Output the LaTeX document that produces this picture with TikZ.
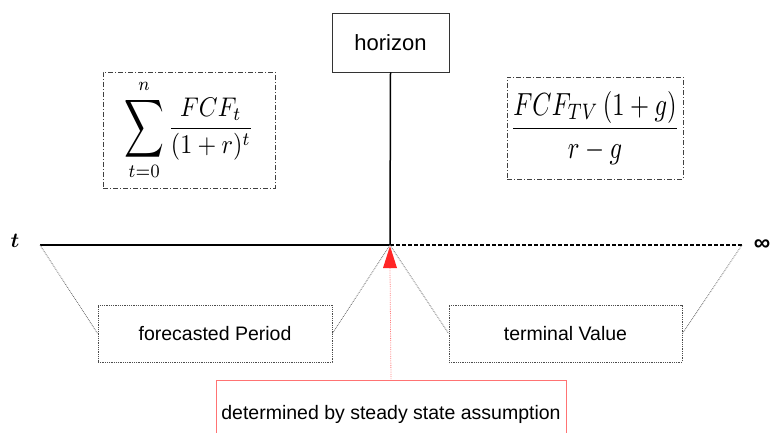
\documentclass[tikz,border=0pt]{standalone}
\usepackage{fontspec}
\setmainfont{Liberation Sans}
\usepackage{amsmath}
\usepackage{graphicx}
\newcommand{\tallsum}{\mathop{\vcenter{\hbox{\scalebox{1.15}[1.5]{$\displaystyle\sum$}}}}\limits}
\begin{document}
\begin{tikzpicture}[x=1pt,y=-1pt,
  dotbox/.style={draw=black!70, densely dotted, line width=0.8pt},
  dashdotbox/.style={draw=black!75, dash pattern=on 5pt off 2pt on 1pt off 2pt, line width=0.8pt},
  connector/.style={draw=black!60, densely dotted, line width=0.8pt},
  redc/.style={draw=red!55, line width=0.8pt},
  txt/.style={font=\fontsize{19.5}{23}\selectfont}
]
\useasboundingbox (0,0) rectangle (771,433);
% horizon box
\node[draw=black!80, line width=0.8pt, minimum width=117pt, minimum height=59pt, inner sep=0pt, font=\fontsize{22}{26}\selectfont] (hor) at (390.5,42.5) {horizon};
% axis
\coordinate (tl) at (40,245);
\coordinate (mid) at (390,245);
\coordinate (inf) at (742,245);
\draw[line width=1.5pt] (hor.south) -- (mid);
\draw[line width=2pt] (tl) -- (mid);
\draw[line width=1.8pt, dash pattern=on 4pt off 2pt] (mid) -- (inf);
\node[inner sep=0pt] (tlab) at (15,241) {\scalebox{2.1}{$\boldsymbol{t}$}};
\node[inner sep=0pt, font=\fontsize{23}{26}\selectfont\bfseries] (ilab) at (762,245) {∞};
% formula boxes
\node[dashdotbox, minimum width=172pt, minimum height=116pt, inner sep=0pt] (fl) at (189,130) {\scalebox{2.4}[2.7]{$\displaystyle\tallsum_{t=0}^{n}\frac{FCF_t}{(1+r)^t}$}};
\node[dashdotbox, minimum width=176pt, minimum height=102pt, inner sep=0pt] (fr) at (595,128) {\raisebox{-6pt}{\scalebox{2.45}[3.2]{$\displaystyle\frac{FCF_{TV}\,(1+g)}{r-g}$}}};
% period boxes
\node[dotbox, txt, minimum width=234pt, minimum height=57pt, inner sep=0pt] (fp) at (215,333.5) {forecasted Period};
\node[dotbox, txt, minimum width=233pt, minimum height=57pt, inner sep=0pt] (tv) at (565.5,333.5) {terminal Value};
\draw[connector] (tl) -- (fp.west);
\draw[connector] (fp.east) -- (mid);
\draw[connector] (mid) -- (tv.west);
\draw[connector] (tv.east) -- (inf);
% red part
\coordinate (tip) at (390,246);
\fill[red!85!white] (tip) -- (397,268) -- (383,268) -- cycle;
\node[redc, txt, minimum width=350pt, minimum height=70pt, inner sep=0pt, text depth=0pt] (rb) at (391,415) {\raisebox{5pt}{determined by steady state assumption}};
\draw[red!50, densely dotted, line width=0.8pt] (390,268) -- (rb.north);
\end{tikzpicture}
\end{document}
